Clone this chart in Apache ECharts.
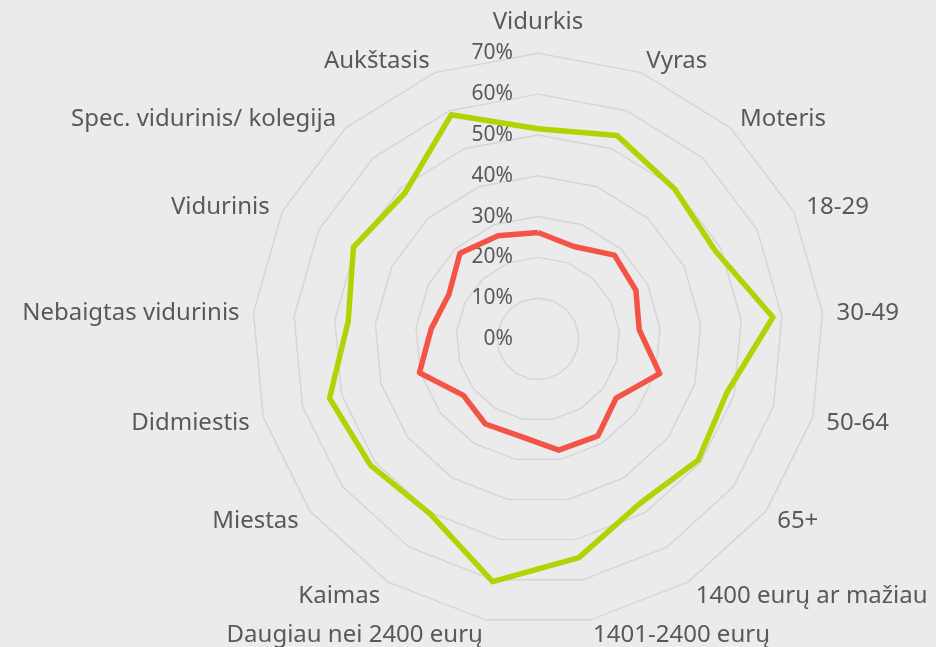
<!DOCTYPE html>
<html>
<head>
<meta charset="utf-8">
<script src="https://cdn.jsdelivr.net/npm/echarts@6/dist/echarts.min.js"></script>
<style>
  html, body { margin: 0; padding: 0; background: #ebebeb; }
  #chart { width: 936px; height: 647px; }
</style>
</head>
<body>
<div id="chart"></div>
<script>
const categories = ["Vidurkis", "Vyras", "Moteris", "18-29", "30-49", "50-64", "65+",
  "1400 eurų ar mažiau", "1401-2400 eurų", "Daugiau nei 2400 eurų", "Kaimas", "Miestas",
  "Didmiestis", "Nebaigtas vidurinis", "Vidurinis", "Spec. vidurinis/ kolegija", "Aukštasis"];
const greenValues = [51.5, 53.5, 49.7, 48.5, 57.8, 48.1, 49.2, 47.4, 54.5, 60.5, 50.3, 51.4, 53.1, 46.7, 50.5, 48.4, 58.9];
const redValues = [26.1, 24.3, 27.8, 26.8, 24.9, 31.0, 24.0, 27.9, 27.7, 24.2, 24.5, 22.9, 30.2, 26.3, 24.4, 28.4, 27.1];
const axisMax = 70;
const axisStep = 10;

// ECharts radar runs counter-clockwise; reorder so categories run clockwise
function clockwise(arr) { return [arr[0]].concat(arr.slice(1).reverse()); }

const FONT = '"Noto Sans", "DejaVu Sans", sans-serif';
const chart = echarts.init(document.getElementById('chart'), null, { renderer: 'canvas' });

const indicators = clockwise(categories).map((name, i) => {
  const ind = { name: name, min: 0, max: axisMax };
  if (i === 0) ind.axisLabel = { show: true };
  return ind;
});

chart.setOption({
  backgroundColor: '#ebebeb',
  animation: false,
  radar: {
    center: [538, 339],
    radius: 285.7,
    startAngle: 90,
    shape: 'polygon',
    splitNumber: axisMax / axisStep,
    nameGap: 14,
    axisName: {
      color: '#595959',
      fontSize: 24,
      fontFamily: FONT,
      formatter: function (name) {
        return name === categories[0] ? '{top|' + name + '}' : '{side|' + name + '}';
      },
      rich: {
        top: { color: '#595959', fontSize: 24, fontFamily: FONT, padding: [0, 0, 5, 0] },
        side: { color: '#595959', fontSize: 24, fontFamily: FONT, padding: [4, 0, 0, 0] }
      }
    },
    axisLine: { show: false },
    axisTick: { show: false },
    splitArea: { show: false },
    splitLine: { lineStyle: { color: '#d6d6d6', width: 1.5 } },
    axisLabel: {
      show: false,
      color: '#595959',
      fontSize: 21,
      fontFamily: FONT,
      margin: 25,
      formatter: function (v) { return v + '%'; }
    },
    indicator: indicators
  },
  series: [{
    type: 'radar',
    symbol: 'none',
    data: [
      { name: 'A', value: clockwise(redValues), lineStyle: { color: '#f45446', width: 5.5 }, itemStyle: { color: '#f45446' } },
      { name: 'B', value: clockwise(greenValues), lineStyle: { color: '#b4d200', width: 5.5 }, itemStyle: { color: '#b4d200' } }
    ]
  }]
});
</script>
</body>
</html>
